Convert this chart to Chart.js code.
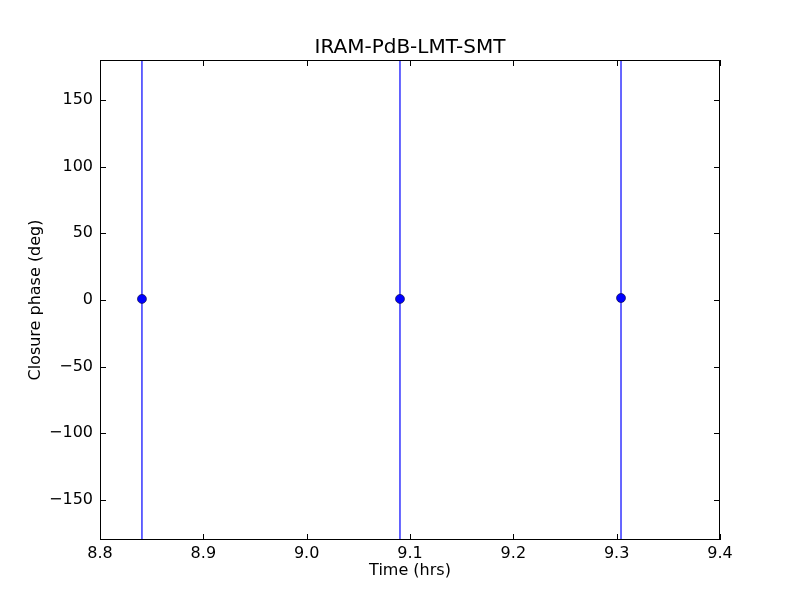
<!DOCTYPE html>
<html>
<head>
<meta charset="utf-8">
<script src="https://cdn.jsdelivr.net/npm/chart.js@4"></script>
<style>
  html, body { margin: 0; padding: 0; background: #fff; }
  #wrap { width: 800px; height: 600px; }
</style>
</head>
<body>
<div id="wrap"><canvas id="cp" width="800" height="600"></canvas></div>
<script>
const titleText = "IRAM-PdB-LMT-SMT";
const xLabel = "Time (hrs)";
const yLabel = "Closure phase (deg)";

const times = [8.8406, 9.0903, 9.3042];
const phases = [0.8, 0.8, 1.5];
const phaseErr = [250, 250, 250];

const xTicks = [8.8, 8.9, 9.0, 9.1, 9.2, 9.3, 9.4];
const yTicks = [-150, -100, -50, 0, 50, 100, 150];

const FONT = "DejaVu Sans";

// error bars, inward ticks, frame and text, drawn like matplotlib
const mplLook = {
  id: "mplLook",
  beforeDatasetsDraw(c) {
    const ctx = c.ctx, a = c.chartArea;
    const xs = c.scales.x, ys = c.scales.y;
    ctx.save();
    ctx.beginPath();
    ctx.rect(a.left, a.top, a.right - a.left, a.bottom - a.top);
    ctx.clip();
    ctx.strokeStyle = "#0000ff";
    ctx.lineWidth = 1.2;
    times.forEach((t, i) => {
      const px = xs.getPixelForValue(t);
      ctx.beginPath();
      ctx.moveTo(px, ys.getPixelForValue(phases[i] - phaseErr[i]));
      ctx.lineTo(px, ys.getPixelForValue(phases[i] + phaseErr[i]));
      ctx.stroke();
    });
    ctx.restore();
  },
  afterDraw(c) {
    const ctx = c.ctx, a = c.chartArea;
    const xs = c.scales.x, ys = c.scales.y;
    ctx.save();
    ctx.strokeStyle = "#000";
    ctx.lineWidth = 1;
    ctx.strokeRect(a.left + 0.5, a.top + 0.5, a.right - a.left - 1, a.bottom - a.top - 1);
    ctx.beginPath();
    xTicks.forEach(v => {
      const px = Math.round(xs.getPixelForValue(v)) + 0.5;
      ctx.moveTo(px, a.bottom); ctx.lineTo(px, a.bottom - 6);
      ctx.moveTo(px, a.top); ctx.lineTo(px, a.top + 6);
    });
    yTicks.forEach(v => {
      const py = Math.round(ys.getPixelForValue(v)) + 0.5;
      ctx.moveTo(a.left, py); ctx.lineTo(a.left + 6, py);
      ctx.moveTo(a.right, py); ctx.lineTo(a.right - 6, py);
    });
    ctx.stroke();

    ctx.fillStyle = "#000";
    ctx.textAlign = "center";
    ctx.textBaseline = "alphabetic";
    ctx.font = "20px '" + FONT + "'";
    ctx.fillText(titleText, (a.left + a.right) / 2, 53);
    ctx.font = "16px '" + FONT + "'";
    ctx.fillText(xLabel, (a.left + a.right) / 2, 575);
    ctx.translate(40, (a.top + a.bottom) / 2);
    ctx.rotate(-Math.PI / 2);
    ctx.fillText(yLabel, 0, 0);
    ctx.restore();
  }
};

new Chart(document.getElementById("cp"), {
  type: "scatter",
  data: {
    datasets: [{
      data: times.map((t, i) => ({ x: t, y: phases[i] })),
      backgroundColor: "#0000ff",
      borderColor: "#000033",
      borderWidth: 0.6,
      pointRadius: 4.5,
      pointHoverRadius: 4.5
    }]
  },
  options: {
    responsive: false,
    animation: false,
    layout: { padding: { left: 0, top: 60, right: 80, bottom: 0 } },
    plugins: { legend: { display: false }, tooltip: { enabled: false }, title: { display: false } },
    scales: {
      x: {
        type: "linear", min: 8.8, max: 9.4,
        afterFit: s => { s.height = 60; },
        afterBuildTicks: s => { s.ticks = xTicks.map(v => ({ value: v })); },
        grid: { display: false, drawTicks: false },
        border: { display: false },
        ticks: {
          color: "#000", padding: 4,
          font: { family: FONT, size: 16 },
          callback: v => v.toFixed(1)
        }
      },
      y: {
        type: "linear", min: -180, max: 180,
        afterFit: s => { s.width = 100; },
        afterBuildTicks: s => { s.ticks = yTicks.map(v => ({ value: v })); },
        grid: { display: false, drawTicks: false },
        border: { display: false },
        ticks: {
          color: "#000", padding: 7,
          font: { family: FONT, size: 16 },
          callback: v => v < 0 ? "\u2212" + Math.abs(v) : String(v)
        }
      }
    }
  },
  plugins: [mplLook]
});
</script>
</body>
</html>
